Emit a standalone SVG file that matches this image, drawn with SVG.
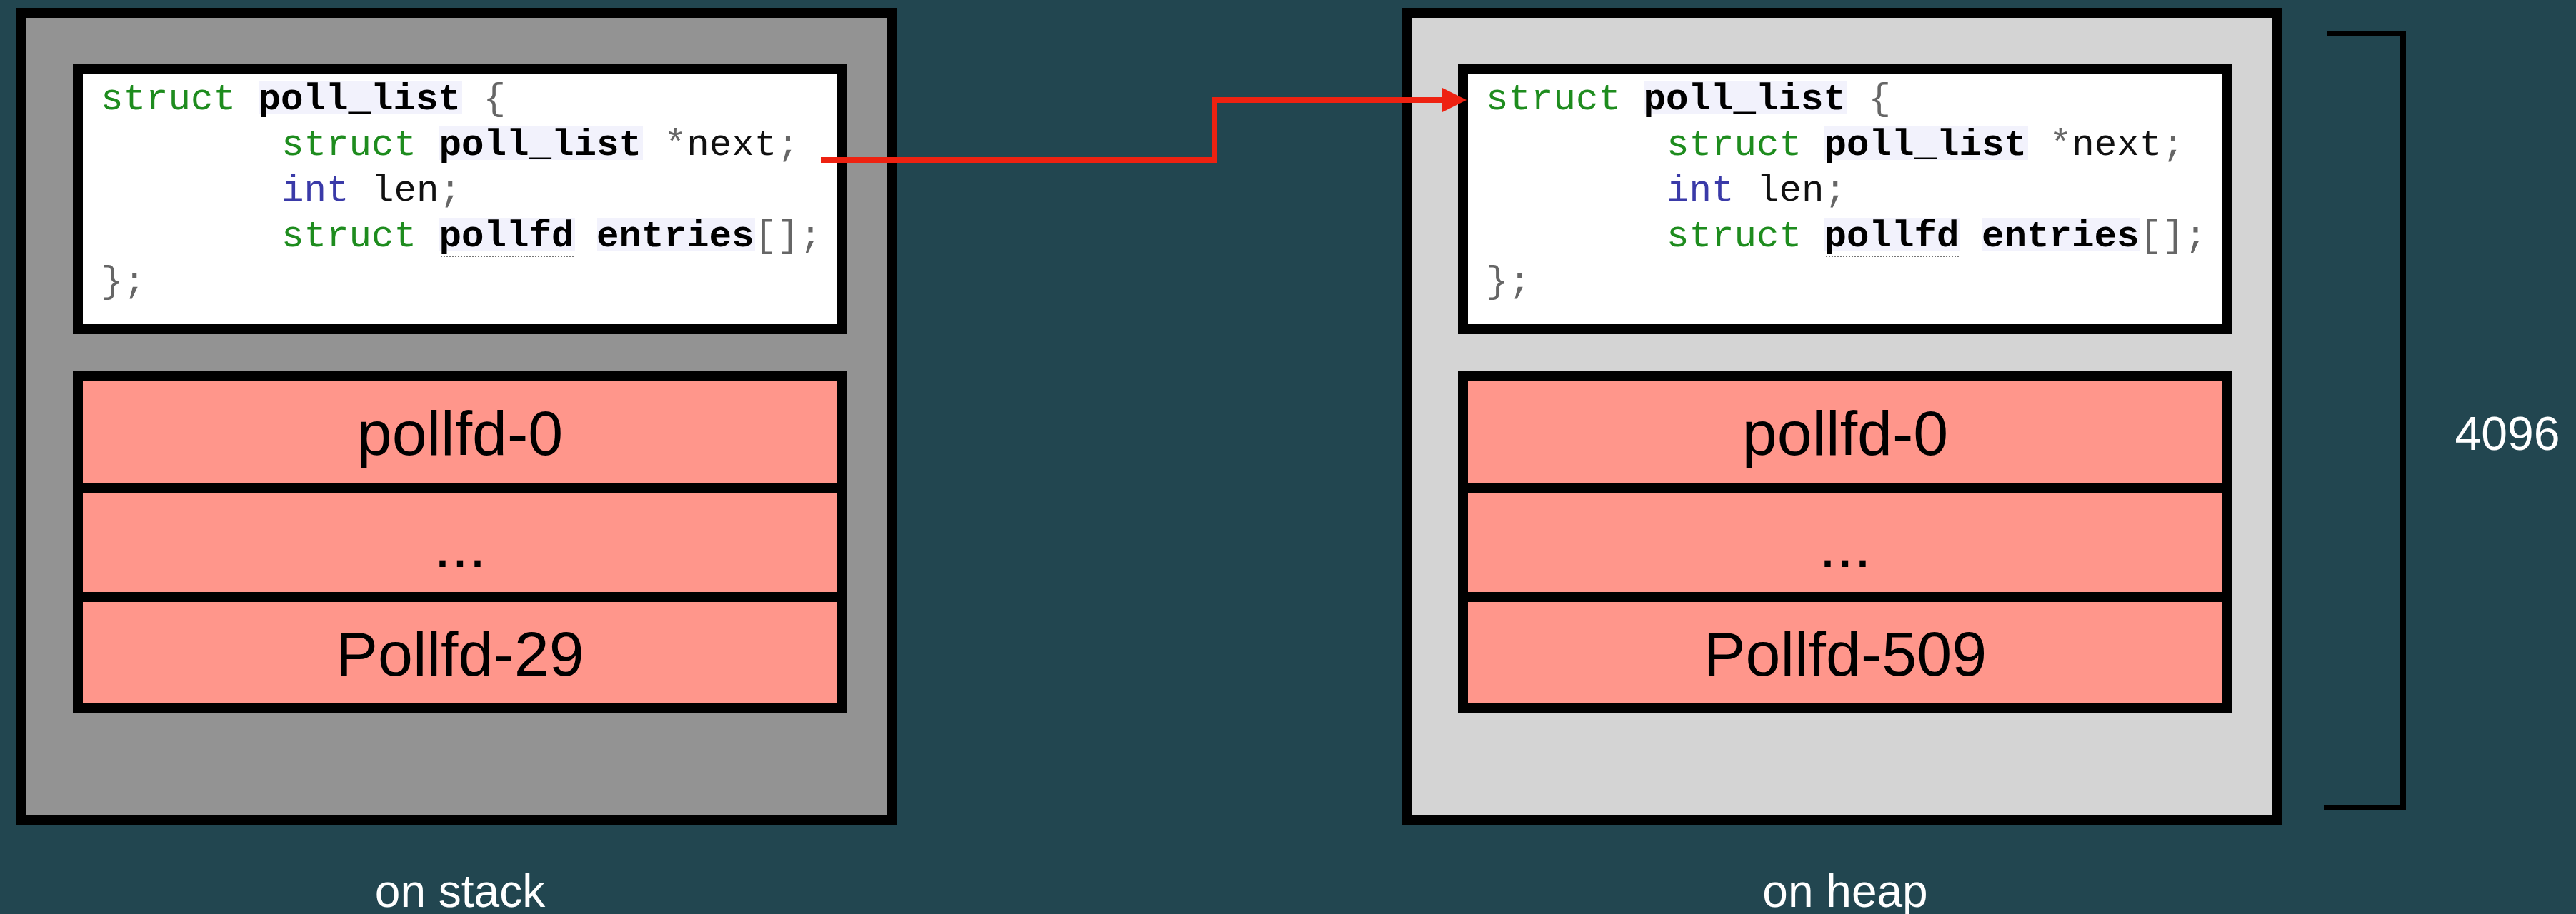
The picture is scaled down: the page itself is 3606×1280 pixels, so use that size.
<svg xmlns="http://www.w3.org/2000/svg" width="3606" height="1280" viewBox="0 0 3606 1280">
<style>
.bg{fill:#224650}
.outer{stroke:#000;stroke-width:14}
.stack{fill:#939393}
.heap{fill:#D4D4D4}
.code{fill:#fff;stroke:#000;stroke-width:14}
.row{fill:#FF968B;stroke:#000;stroke-width:14}
.hl{fill:#F2F2FC}
.mono{font-family:"Liberation Mono","DejaVu Sans Mono",monospace;font-size:52.5px;fill:#111}
.kw{fill:#1E8C1E}
.ty{fill:#3A3AA8}
.id{font-weight:bold;fill:#000}
.p{fill:#666}
.lbl{font-family:"Liberation Sans",Arial,sans-serif;font-size:88px;fill:#000;text-anchor:middle}
.cap{font-family:"Liberation Sans",Arial,sans-serif;font-size:64px;fill:#fff;text-anchor:middle}
.dot{stroke:#777;stroke-width:2;stroke-dasharray:2 2}
.conn{fill:none;stroke:#EE2211;stroke-width:8;stroke-linejoin:miter}
</style>
<defs>
<marker id="ah" markerUnits="userSpaceOnUse" markerWidth="36" markerHeight="36" refX="2" refY="17.5" orient="auto">
<path d="M0,0 L35,17.5 L0,35 Z" fill="#EE2211"/>
</marker>
<g id="codeTpl">
<rect class="hl" x="362" y="113" width="285" height="47"/>
<rect class="hl" x="615" y="177" width="285" height="47"/>
<rect class="hl" x="615" y="305" width="190" height="47"/>
<rect class="hl" x="836" y="305" width="221" height="47"/>
<text class="mono" x="141" y="153"><tspan class="kw">struct</tspan> <tspan class="id">poll_list</tspan> <tspan class="p">{</tspan></text>
<text class="mono" x="394" y="217"><tspan class="kw">struct</tspan> <tspan class="id">poll_list</tspan> <tspan class="p">*</tspan>next<tspan class="p">;</tspan></text>
<text class="mono" x="394" y="281"><tspan class="ty">int</tspan> len<tspan class="p">;</tspan></text>
<text class="mono" x="394" y="345"><tspan class="kw">struct</tspan> <tspan class="id">pollfd</tspan> <tspan class="id">entries</tspan><tspan class="p">[];</tspan></text>
<text class="mono" x="141" y="409"><tspan class="p">};</tspan></text>
<line class="dot" x1="617" y1="359" x2="805" y2="359"/>
</g>
</defs>
<rect class="bg" x="0" y="0" width="3606" height="1280"/>

<g id="stack-frame">
<rect class="outer stack" x="30" y="18" width="1219" height="1130"/>
<g id="stack-code">
<rect class="code" x="109" y="97" width="1070" height="364"/>
<use href="#codeTpl"/>
</g>
<g id="stack-pollfd-0">
<rect class="row" x="109" y="527" width="1070" height="157"/>
<text class="lbl" x="644" y="637">pollfd-0</text>
</g>
<g id="stack-pollfd-dots">
<rect class="row" x="109" y="684" width="1070" height="152"/>
<text class="lbl" x="644" y="794">...</text>
</g>
<g id="stack-pollfd-29">
<rect class="row" x="109" y="836" width="1070" height="156"/>
<text class="lbl" x="644" y="946">Pollfd-29</text>
</g>
</g>

<g id="heap-frame">
<rect class="outer heap" x="1969" y="18" width="1218" height="1130"/>
<g id="heap-code">
<rect class="code" x="2048" y="97" width="1070" height="364"/>
<use href="#codeTpl" transform="translate(1939,0)"/>
</g>
<g id="heap-pollfd-0">
<rect class="row" x="2048" y="527" width="1070" height="157"/>
<text class="lbl" x="2583" y="637">pollfd-0</text>
</g>
<g id="heap-pollfd-dots">
<rect class="row" x="2048" y="684" width="1070" height="152"/>
<text class="lbl" x="2583" y="794">...</text>
</g>
<g id="heap-pollfd-509">
<rect class="row" x="2048" y="836" width="1070" height="156"/>
<text class="lbl" x="2583" y="946">Pollfd-509</text>
</g>
</g>

<g id="size-bracket">
<path d="M3257,47 H3364 V1131 H3253" fill="none" stroke="#000" stroke-width="8"/>
<text class="cap" x="3510" y="630" style="font-size:66px">4096</text>
</g>

<g id="captions">
<text class="cap" x="644" y="1270">on stack</text>
<text class="cap" x="2583" y="1270">on heap</text>
</g>

<g id="connectors">
<path class="conn" d="M1149,224 H1700 V140 H2020" marker-end="url(#ah)"/>
</g>
</svg>
